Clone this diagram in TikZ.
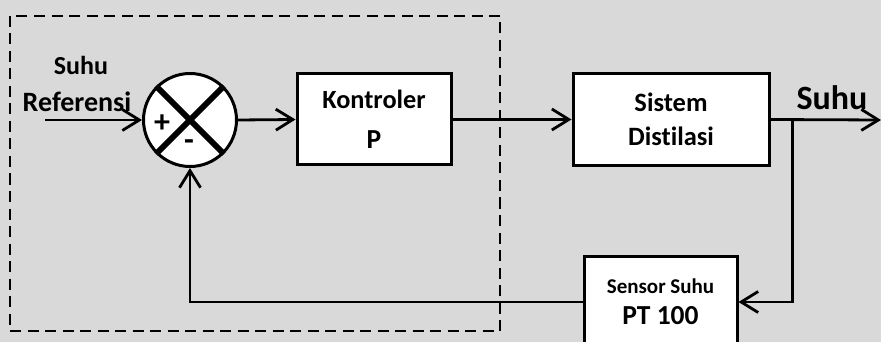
\documentclass[tikz,border=0pt]{standalone}
\usepackage{fontspec}
\setmainfont{Carlito}[Ligatures=NoCommon]
\usetikzlibrary{arrows.meta}
\definecolor{bgc}{HTML}{D9D9D9}
\begin{document}
\begin{tikzpicture}[x=1pt,y=-1pt,
  blk/.style={draw, fill=white, line width=3pt, align=center, font=\bfseries},
  arr/.style={line width=2.8pt, -{Straight Barb[length=17pt,width=21pt,line width=2.8pt]}},
  dbox/.style={line width=2.6pt, dash pattern=on 11pt off 6.5pt},
  lbl/.style={font=\bfseries, inner sep=0pt, anchor=base}]
\fill[bgc] (0,0) rectangle (881,342);
\useasboundingbox (0,0) rectangle (881,342);
% blocks
\node[blk, minimum width=154pt, minimum height=91pt, font=\bfseries\fontsize{26.3}{40}\selectfont] (kon) at (374,119.5) {\raisebox{-2pt}{Kontroler}\\{\fontsize{27.5}{40}\selectfont\raisebox{-2pt}{P}}};
\node[blk, minimum width=196pt, minimum height=92pt, font=\bfseries\fontsize{26.5}{34}\selectfont] (sis) at (671,119.5) {Sistem\\Distilasi};
\node[blk, minimum width=153pt, minimum height=92pt, font=\bfseries\fontsize{21}{31}\selectfont] (sen) at (660.5,302) {Sensor Suhu\\{\fontsize{27.5}{31}\selectfont PT 100}};
% summing junction
\node[circle, draw, fill=white, line width=3pt, minimum size=93pt, inner sep=0pt] (sum) at (190,120) {};
\draw[line width=6pt] (sum.north west) -- (sum.south east);
\draw[line width=6pt] (sum.north east) -- (sum.south west);
\node[lbl, font=\bfseries\fontsize{32}{32}\selectfont] (plus) at (162,133) {+};
\node[lbl, font=\bfseries\fontsize{32}{32}\selectfont] (minus) at (189,151) {-};
% labels
\node[lbl, font=\bfseries\fontsize{26}{26}\selectfont] (lsuhu) at (81,75) {Suhu};
\node[lbl, font=\bfseries\fontsize{28}{28}\selectfont] (lref) at (77,111.5) {Referensi};
\node[lbl, font=\bfseries\fontsize{34}{34}\selectfont] (osuhu) at (832,110) {Suhu};
% coordinates
\coordinate (in) at (45,120);
\coordinate (out) at (881,120);
\coordinate (br) at (792.5,120);
% connectors
\draw[arr] (in) -- (sum.west);
\draw[arr] (sum.east) -- (kon.west);
\draw[arr] (kon.east) -- (sis.west);
\draw[arr] (sis.east) -- (out);
\draw[arr] (br) |- (sen.east);
\draw[arr] (sen.west) -| (sum.south);
% dashed boundary
\draw[dbox] (10,16) rectangle (500,331);
\end{tikzpicture}
\end{document}
